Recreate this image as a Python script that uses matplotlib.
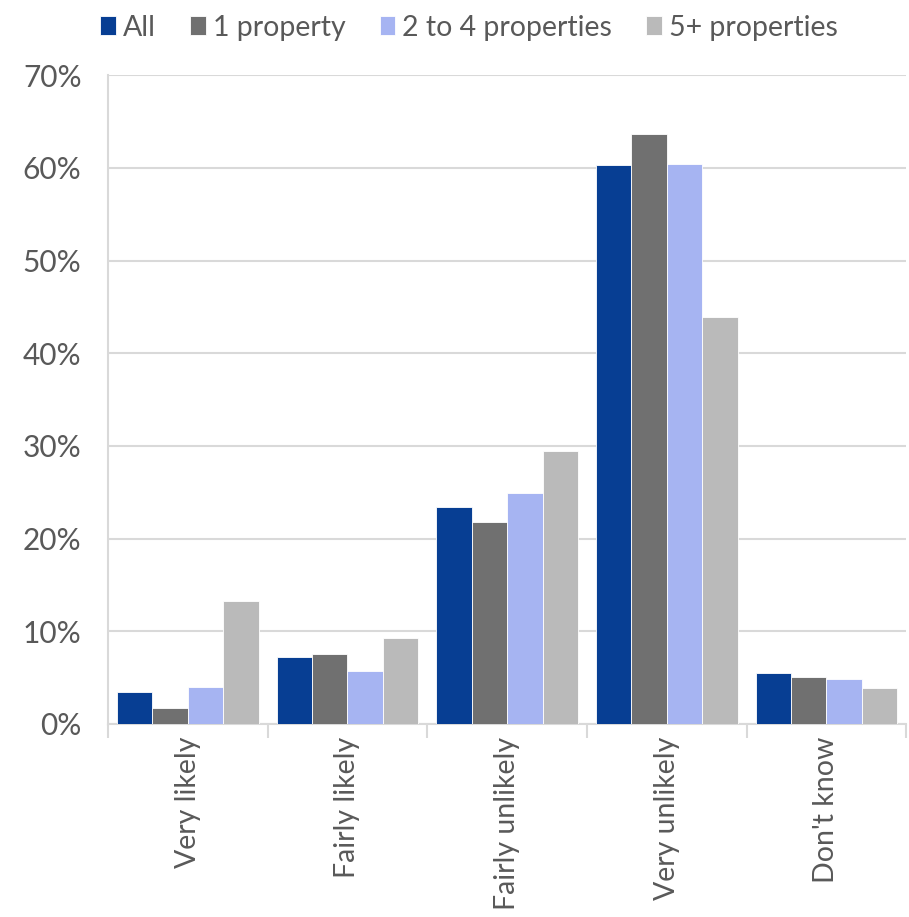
import matplotlib
matplotlib.use("Agg")
import matplotlib.pyplot as plt
import numpy as np
from matplotlib.ticker import FixedLocator, PercentFormatter

categories = ["Very likely", "Fairly likely", "Fairly unlikely", "Very unlikely", "Don't know"]
series_names = ["All", "1 property", "2 to 4 properties", "5+ properties"]
all_vals = [3.4, 7.2, 23.4, 60.3, 5.5]
one_prop = [1.7, 7.5, 21.8, 63.7, 5.1]
two_four = [4.0, 5.7, 24.9, 60.4, 4.8]
five_plus = [13.3, 9.3, 29.4, 43.9, 3.9]
yticks = [0, 10, 20, 30, 40, 50, 60, 70]

colors = ["#073e93", "#707070", "#a6b4f2", "#bababa"]
text_color = "#595959"
grid_color = "#d9d9d9"

plt.rcParams['font.family'] = ['Lato', 'DejaVu Sans']

fig = plt.figure(figsize=(9.09, 9.17), dpi=100)
ax = fig.add_axes([0.1188, 0.2105, 0.8782, 0.7075])

x = np.arange(len(categories))
w = 0.222
data = [all_vals, one_prop, two_four, five_plus]
for i, (vals, name, c) in enumerate(zip(data, series_names, colors)):
    ax.bar(x + (i - 1.5) * w, vals, width=w, color=c, label=name,
           edgecolor="white", linewidth=0.6, zorder=3)

ax.set_xlim(-0.5, len(categories) - 0.5)
ax.set_ylim(0, 70)
ax.set_yticks(yticks)
ax.yaxis.set_major_formatter(PercentFormatter(decimals=0))
ax.grid(axis="y", color=grid_color, linewidth=1.5, zorder=0)

ax.set_xticks(x)
ax.set_xticklabels(categories, rotation=90, fontsize=20.5, color=text_color)
ax.xaxis.set_minor_locator(FixedLocator(np.arange(-0.5, len(categories) + 0.5, 1)))
ax.tick_params(axis="x", which="major", length=0, pad=9)
ax.tick_params(axis="x", which="minor", length=10, width=1.5, color=grid_color)
ax.tick_params(axis="y", length=0, labelsize=21.5, labelcolor=text_color, pad=19)

for s in ["top", "right"]:
    ax.spines[s].set_visible(False)
for s in ["left", "bottom"]:
    ax.spines[s].set_color(grid_color)
    ax.spines[s].set_linewidth(1.5)

leg = fig.legend(loc="upper center", bbox_to_anchor=(0.516, 1.012), ncol=4,
                 frameon=False, fontsize=20.5, handlelength=0.55, handleheight=0.65,
                 handletextpad=0.25, columnspacing=1.2)
for t in leg.get_texts():
    t.set_color(text_color)

fig.savefig("out.png", dpi=100)
